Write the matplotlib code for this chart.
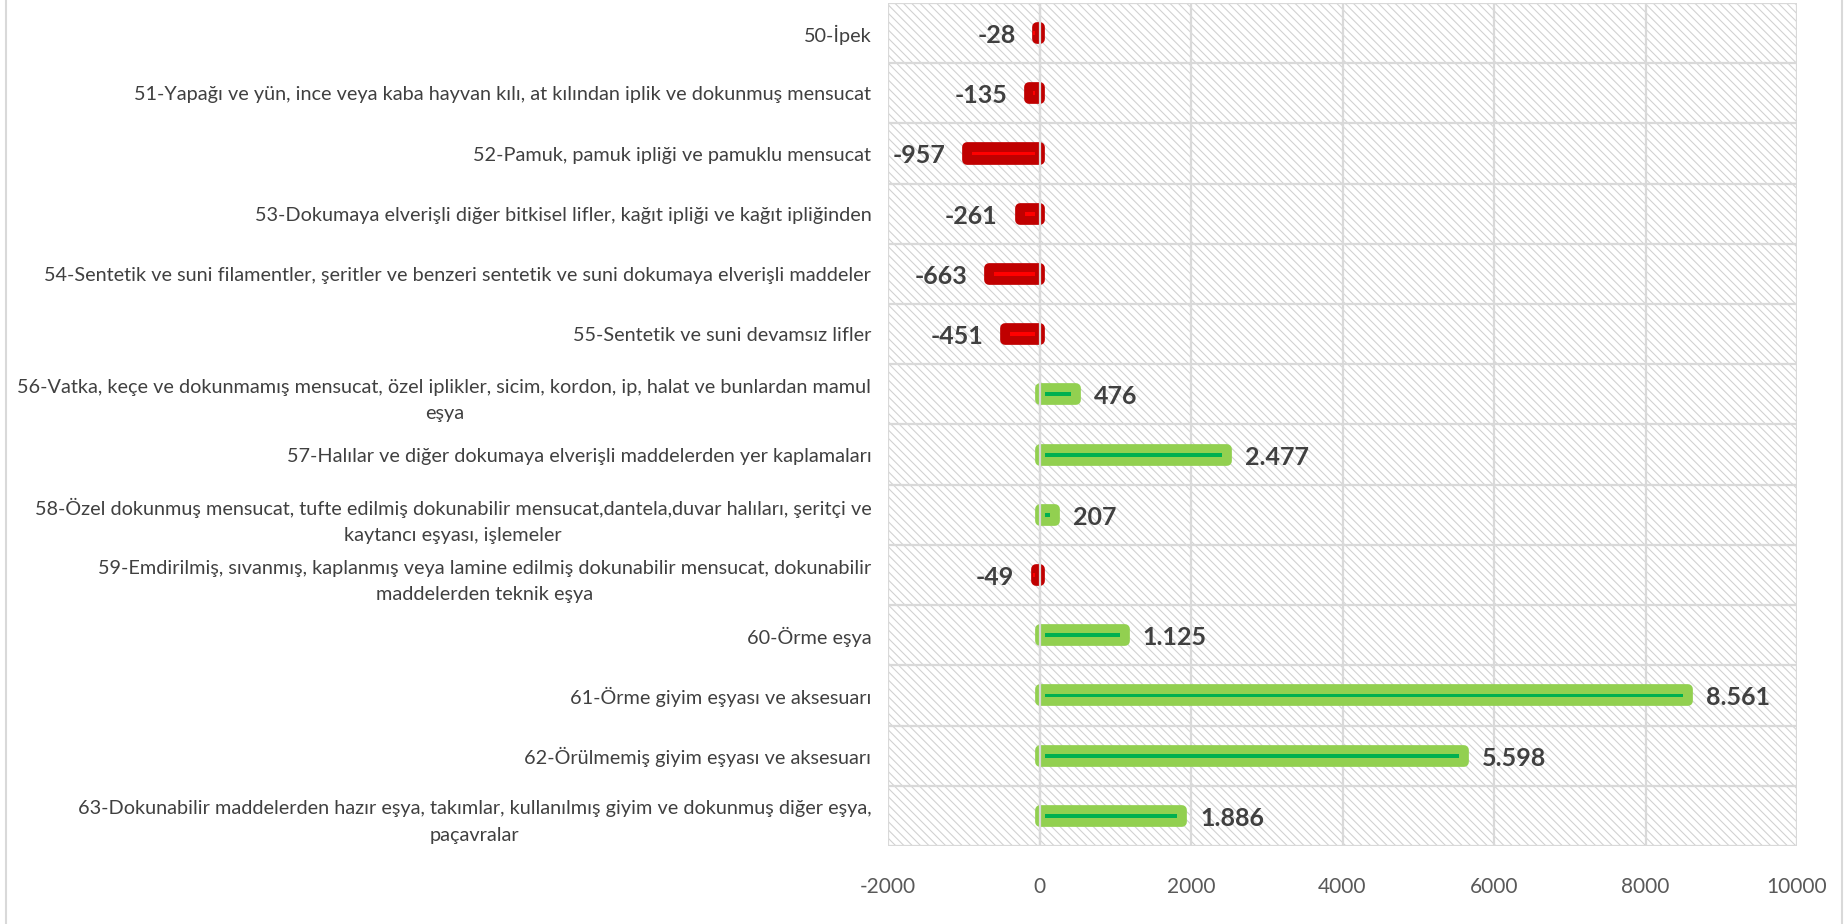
import numpy as np
import matplotlib
matplotlib.use("Agg")
import matplotlib.pyplot as plt
from matplotlib.patches import Rectangle
from matplotlib.lines import Line2D

categories = [
    "50-İpek",
    "51-Yapağı ve yün, ince veya kaba hayvan kılı, at kılından iplik ve dokunmuş mensucat",
    "52-Pamuk, pamuk ipliği ve pamuklu mensucat",
    "53-Dokumaya elverişli diğer bitkisel lifler, kağıt ipliği ve kağıt ipliğinden",
    "54-Sentetik ve suni filamentler, şeritler ve benzeri sentetik ve suni dokumaya elverişli maddeler",
    "55-Sentetik ve suni devamsız lifler",
    "56-Vatka, keçe ve dokunmamış mensucat, özel iplikler, sicim, kordon, ip, halat ve bunlardan mamul\neşya",
    "57-Halılar ve diğer dokumaya elverişli maddelerden yer kaplamaları",
    "58-Özel dokunmuş mensucat, tufte edilmiş dokunabilir mensucat,dantela,duvar halıları, şeritçi ve\nkaytancı eşyası, işlemeler",
    "59-Emdirilmiş, sıvanmış, kaplanmış veya lamine edilmiş dokunabilir mensucat, dokunabilir\nmaddelerden teknik eşya",
    "60-Örme eşya",
    "61-Örme giyim eşyası ve aksesuarı",
    "62-Örülmemiş giyim eşyası ve aksesuarı",
    "63-Dokunabilir maddelerden hazır eşya, takımlar, kullanılmış giyim ve dokunmuş diğer eşya,\npaçavralar",
]
values = [-28, -135, -957, -261, -663, -451, 476, 2477, 207, -49, 1125, 8561, 5598, 1886]
xticks = [-2000, 0, 2000, 4000, 6000, 8000, 10000]

plt.rcParams["hatch.linewidth"] = 0.8

fig = plt.figure(figsize=(18.45, 9.24), dpi=100)
ax = fig.add_axes([0.4813, 0.0844, 0.4927, 0.9124])

y = np.arange(len(values))
vals = np.array(values)
xmin, xmax = xticks[0], xticks[-1]
ax.set_xlim(xmin, xmax)
ax.set_ylim(len(values) - 0.5, -0.5)

# hatched plot background
bg = Rectangle((0, 0), 1, 1, transform=ax.transAxes, facecolor="white",
               edgecolor="#d2d2d2", hatch="\\\\\\\\", linewidth=0, zorder=0)
ax.add_patch(bg)

# grid
for xt in xticks:
    ax.axvline(xt, color="#d9d9d9", lw=1.6, zorder=1)
for b in np.arange(-0.5, len(values) + 0.5, 1):
    ax.axhline(b, color="#d9d9d9", lw=1.6, zorder=1)
ax.axvline(0, color="#d9d9d9", lw=1.6, zorder=6)

outer = np.where(vals < 0, "#C00000", "#92D050")
inner = np.where(vals < 0, "#FF0000", "#00B050")

ax.barh(y, vals, height=0.2, color=outer, edgecolor=outer, linewidth=7,
        joinstyle="round", zorder=3)

# thin inner stripe, inset a few pixels at both ends
px = (xmax - xmin) / (0.4927 * 1845)
inset = 5 * px
sign = np.sign(vals)
mag = np.maximum(np.abs(vals) - 2 * inset, 2 * px)
ax.barh(y, sign * mag, left=sign * inset, height=0.065, color=inner,
        linewidth=0, zorder=4)

# value labels
for yi, v in zip(y, vals):
    txt = f"{v:,}".replace(",", ".")
    if v < 0:
        ax.text(v - 22 * px, yi + 0.04, txt, ha="right", va="center",
                fontsize=18, fontweight="bold", color="#404040",
                family=["Lato", "DejaVu Sans"], zorder=5)
    else:
        ax.text(v + 18 * px, yi + 0.04, txt, ha="left", va="center",
                fontsize=18, fontweight="bold", color="#404040",
                family=["Lato", "DejaVu Sans"], zorder=5)

ax.set_yticks(y)
ax.set_yticklabels(categories, fontsize=14.3, color="#404040",
                   family=["Lato", "DejaVu Sans"], multialignment="center",
                   linespacing=1.65)
ax.set_xticks(xticks)
ax.set_xticklabels([str(t) for t in xticks], fontsize=15, color="#595959",
                   family=["Lato", "DejaVu Sans"])
ax.tick_params(axis="y", length=0, pad=12)
ax.tick_params(axis="x", length=0, pad=22)
for s in ax.spines.values():
    s.set_visible(False)

# outer frame lines of the chart area
fig.add_artist(Line2D([6 / 1845, 6 / 1845], [0, 1], color="#d9d9d9", lw=1.5))
fig.add_artist(Line2D([1842 / 1845, 1842 / 1845], [0, 1], color="#d9d9d9", lw=1.5))

fig.savefig("out.png", dpi=100)
